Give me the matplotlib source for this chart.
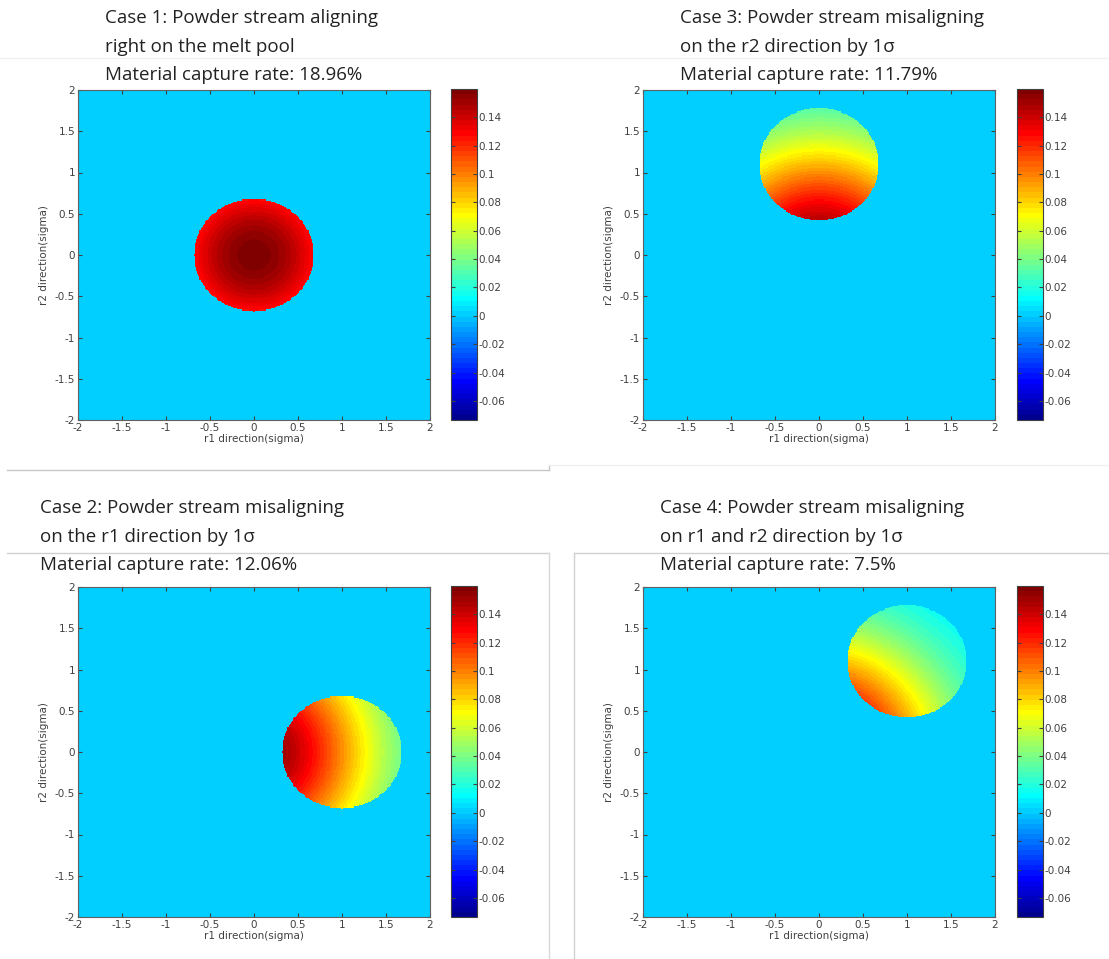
import numpy as np
import matplotlib
matplotlib.use("Agg")
from matplotlib import pyplot as plt
from matplotlib.colors import ListedColormap
from matplotlib.lines import Line2D

# panel data
titles = [
    "Case 1: Powder stream aligning\nright on the melt pool\nMaterial capture rate: 18.96%",
    "Case 3: Powder stream misaligning\non the r2 direction by 1\u03c3\nMaterial capture rate: 11.79%",
    "Case 2: Powder stream misaligning\non the r1 direction by 1\u03c3\nMaterial capture rate: 12.06%",
    "Case 4: Powder stream misaligning\non r1 and r2 direction by 1\u03c3\nMaterial capture rate: 7.5%",
]
centers_r1 = [0.0, 0.0, 1.0, 1.0]
centers_r2 = [0.0, 1.1, 0.0, 1.1]
pool_radius = 0.68
clim = (-0.0735, 0.16)
ticks = [-2, -1.5, -1, -0.5, 0, 0.5, 1, 1.5, 2]
tick_labels = ["-2", "-1.5", "-1", "-0.5", "0", "0.5", "1", "1.5", "2"]
cb_ticks = [-0.06, -0.04, -0.02, 0, 0.02, 0.04, 0.06, 0.08, 0.1, 0.12, 0.14]
cb_labels = ["-0.06", "-0.04", "-0.02", "0", "0.02", "0.04", "0.06", "0.08", "0.1", "0.12", "0.14"]

# pixel layout: (axes left, axes top, cbar left, title x, title y)
W, H = 1109, 959
layout = [
    (78, 90, 451, 105, 9),
    (643, 90, 1017, 680, 9),
    (78, 587, 451, 40, 499),
    (643, 587, 1017, 660, 499),
]
AX_W, AX_H, CB_W = 352, 330, 26


def frac(x, y, w, h):
    return [x / W, 1 - (y + h) / H, w / W, h / H]


def matlab_jet(n=64):
    x = np.arange(1, n + 1) / n
    r = np.clip(1.5 - np.abs(4 * x - 3), 0, 1)
    g = np.clip(1.5 - np.abs(4 * x - 2), 0, 1)
    b = np.clip(1.5 - np.abs(4 * x - 1), 0, 1)
    return ListedColormap(np.column_stack([r, g, b]))


def melt_pool_field(c1, c2):
    g = np.linspace(-2, 2, 301)
    r1, r2 = np.meshgrid(g, g)
    pdf = np.exp(-(r1 ** 2 + r2 ** 2) / 2) / (2 * np.pi)
    inside = (r1 - c1) ** 2 + (r2 - c2) ** 2 <= pool_radius ** 2
    return g, np.where(inside, pdf, 0.0)


jet = matlab_jet()
fig = plt.figure(figsize=(W / 100, H / 100), dpi=100)
gray = "#404040"

for i in range(4):
    axl, axt, cbl, tx, ty = layout[i]
    ax = fig.add_axes(frac(axl, axt, AX_W, AX_H))
    g, z = melt_pool_field(centers_r1[i], centers_r2[i])
    im = ax.pcolormesh(g, g, z, cmap=jet, vmin=clim[0], vmax=clim[1],
                       shading="auto", rasterized=True)
    ax.set_xlim(-2, 2)
    ax.set_ylim(-2, 2)
    ax.set_xticks(ticks)
    ax.set_xticklabels(tick_labels)
    ax.set_yticks(ticks)
    ax.set_yticklabels(tick_labels)
    ax.tick_params(direction="in", length=3, labelsize=7.5, colors=gray,
                   top=True, right=True, pad=2)
    for s in ax.spines.values():
        s.set_color("#606060")
        s.set_linewidth(0.8)
    ax.set_xlabel("r1 direction(sigma)", fontsize=7.5, color=gray, labelpad=1)
    ax.set_ylabel("r2 direction(sigma)", fontsize=7.5, color=gray, labelpad=4)

    cax = fig.add_axes(frac(cbl, axt - 1, CB_W, AX_H + 1))
    cb = fig.colorbar(im, cax=cax)
    cb.set_ticks(cb_ticks)
    cb.set_ticklabels(cb_labels)
    cax.tick_params(direction="in", length=3, labelsize=7.5, colors=gray,
                    left=True, right=True, pad=1)
    cb.outline.set_edgecolor("#404040")
    cb.outline.set_linewidth(0.8)

    fig.text(tx / W, 1 - ty / H, titles[i], ha="left", va="top",
             fontsize=13.5, family="Open Sans", color="#222222",
             linespacing=1.75)

# faint slide borders around the panels
def hline(x0, x1, y, c):
    fig.add_artist(Line2D([x0 / W, x1 / W], [1 - y / H, 1 - y / H],
                          color=c, lw=1, transform=fig.transFigure))


def vline(x, y0, y1, c):
    fig.add_artist(Line2D([x / W, x / W], [1 - y0 / H, 1 - y1 / H],
                          color=c, lw=1, transform=fig.transFigure))


hline(0, W, 58, "#f0f0f0")
hline(7, 549, 470, "#c8c8c8")
vline(549, 465, 470, "#c8c8c8")
hline(549, W, 465, "#f0f0f0")
hline(7, 549, 553, "#d0d0d0")
vline(549, 553, H, "#d8d8d8")
vline(574, 553, H, "#d0d0d0")
hline(574, W, 553, "#d0d0d0")

fig.savefig("out.png", dpi=100)
